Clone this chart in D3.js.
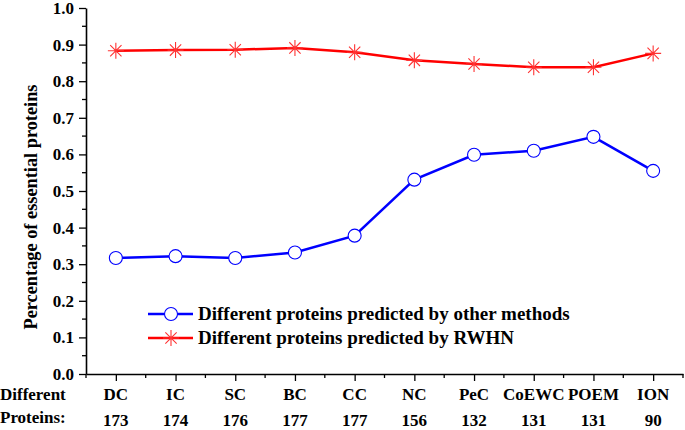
<!DOCTYPE html>
<html>
<head>
<meta charset="utf-8">
<script src="https://cdn.jsdelivr.net/npm/d3@7"></script>
<style>
  body { margin: 0; background: #fff; }
  svg text { font-family: "Times New Roman", "Liberation Serif", "DejaVu Serif", serif !important; font-weight: bold; fill: #000; }
</style>
</head>
<body>
<div class="chart"></div>
<script>
const methods = ['DC', 'IC', 'SC', 'BC', 'CC', 'NC', 'PeC', 'CoEWC', 'POEM', 'ION'];
const proteinCounts = [173, 174, 176, 177, 177, 156, 132, 131, 131, 90];
const otherMethods = [0.317, 0.322, 0.317, 0.332, 0.378, 0.531, 0.599, 0.610, 0.648, 0.555];
const rwhn = [0.883, 0.885, 0.886, 0.891, 0.879, 0.857, 0.847, 0.838, 0.838, 0.876];
const yTicks = [0, 0.1, 0.2, 0.3, 0.4, 0.5, 0.6, 0.7, 0.8, 0.9, 1.0];

const margin = {top: 8, right: 2, bottom: 56, left: 86};
const width = 685 - margin.left - margin.right;
const height = 430 - margin.top - margin.bottom;

const svg = d3.select('.chart')
    .append('svg')
    .attr('width', 685)
    .attr('height', 430);

const group = svg.append('g')
    .attr('transform', `translate(${margin.left},${margin.top})`);

const xScale = d3.scalePoint()
    .domain(methods)
    .range([0, width])
    .padding(0.5);

const yScale = d3.scaleLinear()
    .domain([0, 1])
    .range([height, 0]);

// minor ticks first so major ones sit on top
const step = xScale.step();
group.append('g')
    .selectAll('line')
    .data(d3.range(methods.length + 1))
    .enter()
    .append('line')
    .attr('x1', d => d * step)
    .attr('x2', d => d * step)
    .attr('y1', height)
    .attr('y2', height + 4)
    .attr('stroke', '#000')
    .attr('stroke-width', 1.3);

group.append('g')
    .selectAll('line')
    .data(d3.range(0.05, 1, 0.1))
    .enter()
    .append('line')
    .attr('x1', 0)
    .attr('x2', -4)
    .attr('y1', d => yScale(d))
    .attr('y2', d => yScale(d))
    .attr('stroke', '#000')
    .attr('stroke-width', 1.3);

const x_axis = d3.axisBottom(xScale).tickSize(7).tickSizeOuter(0).tickFormat('');
const y_axis = d3.axisLeft(yScale).tickValues(yTicks).tickSize(7).tickSizeOuter(0)
    .tickFormat(d3.format('.1f'));

group.append('g')
    .attr('transform', `translate(0,${height})`)
    .call(x_axis)
    .call(g => g.select('.domain').attr('stroke-width', 1.6))
    .call(g => g.selectAll('.tick line').attr('stroke-width', 1.3));

group.append('g')
    .call(y_axis)
    .attr('font-family', null)
    .call(g => g.select('.domain').attr('stroke-width', 1.6))
    .call(g => g.selectAll('.tick line').attr('stroke-width', 1.3))
    .call(g => g.selectAll('.tick text')
        .attr('font-size', 17)
        .attr('x', -12));

// category labels and counts
group.append('g')
    .selectAll('text')
    .data(methods)
    .enter()
    .append('text')
    .attr('x', d => xScale(d))
    .attr('y', height + 26)
    .attr('text-anchor', 'middle')
    .attr('font-size', 17)
    .text(d => d);

group.append('g')
    .selectAll('text')
    .data(proteinCounts)
    .enter()
    .append('text')
    .attr('x', (d, i) => xScale(methods[i]))
    .attr('y', height + 52)
    .attr('text-anchor', 'middle')
    .attr('font-size', 17)
    .text(d => d);

svg.append('text').attr('x', 0).attr('y', 400).attr('font-size', 17).text('Different');
svg.append('text').attr('x', 0).attr('y', 423).attr('font-size', 17).text('Proteins:');

svg.append('text')
    .attr('transform', 'translate(37,207) rotate(-90)')
    .attr('text-anchor', 'middle')
    .attr('font-size', 18)
    .attr('textLength', 245)
    .attr('lengthAdjust', 'spacingAndGlyphs')
    .text('Percentage of essential proteins');

const line = d3.line()
    .x((d, i) => xScale(methods[i]))
    .y(d => yScale(d));

const starPath = r => {
    const a = r * Math.SQRT1_2;
    return `M${-r},0L${r},0M0,${-r}L0,${r}M${-a},${-a}L${a},${a}M${-a},${a}L${a},${-a}`;
};

group.append('path')
    .datum(rwhn)
    .attr('d', line)
    .attr('fill', 'none')
    .attr('stroke', '#ff0000')
    .attr('stroke-width', 2.5);

group.append('path')
    .datum(otherMethods)
    .attr('d', line)
    .attr('fill', 'none')
    .attr('stroke', '#0000ff')
    .attr('stroke-width', 2.5);

group.selectAll('.star')
    .data(rwhn)
    .enter()
    .append('path')
    .attr('class', 'star')
    .attr('transform', (d, i) => `translate(${xScale(methods[i])},${yScale(d)})`)
    .attr('d', starPath(8))
    .attr('stroke', '#ff3333')
    .attr('stroke-width', 1.1);

group.selectAll('.circ')
    .data(otherMethods)
    .enter()
    .append('circle')
    .attr('class', 'circ')
    .attr('cx', (d, i) => xScale(methods[i]))
    .attr('cy', d => yScale(d))
    .attr('r', 6.5)
    .attr('fill', '#fff')
    .attr('stroke', '#0000ff')
    .attr('stroke-width', 1.1);

// legend
const legend = svg.append('g');
const legendItems = [
    {label: 'Different proteins predicted by other methods', color: '#0000ff', y: 314},
    {label: 'Different proteins predicted by RWHN', color: '#ff0000', y: 338}
];
legendItems.forEach((d, i) => {
    legend.append('line')
        .attr('x1', 148).attr('x2', 193)
        .attr('y1', d.y).attr('y2', d.y)
        .attr('stroke', d.color)
        .attr('stroke-width', 2.5);
    if (i == 0) {
        legend.append('circle')
            .attr('cx', 171).attr('cy', d.y).attr('r', 6.5)
            .attr('fill', '#fff').attr('stroke', d.color).attr('stroke-width', 1.1);
    } else {
        legend.append('path')
            .attr('transform', `translate(171,${d.y})`)
            .attr('d', starPath(8))
            .attr('stroke', '#ff3333').attr('stroke-width', 1.1);
    }
    legend.append('text')
        .attr('x', 198)
        .attr('y', d.y + 6)
        .attr('font-size', 19)
        .text(d.label);
});
</script>
</body>
</html>
